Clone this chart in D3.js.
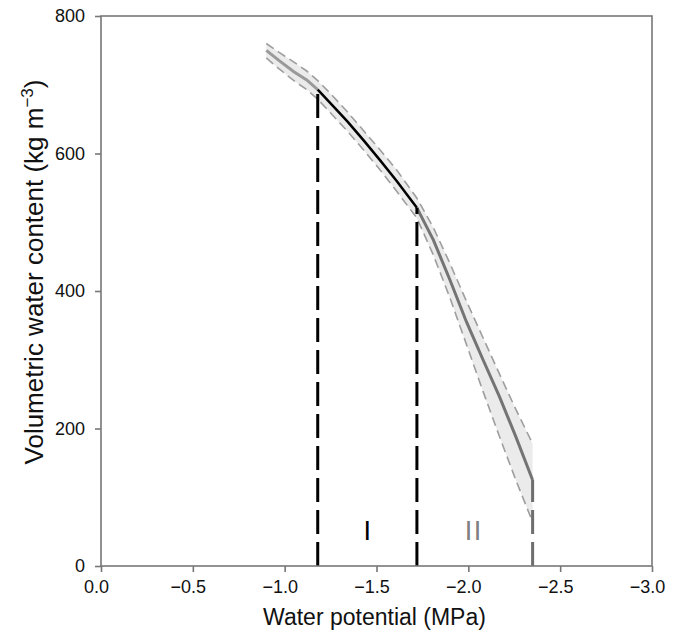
<!DOCTYPE html>
<html>
<head>
<meta charset="utf-8">
<script src="https://cdn.jsdelivr.net/npm/d3@7"></script>
<style>
  body { margin: 0; background: #fff; }
  text { font-family: "Liberation Sans", Arial, sans-serif; }
</style>
</head>
<body>
<div id="chart"></div>
<script>
// water potential (MPa) and volumetric water content (kg m-3)
var psi      = [-0.90, -0.97, -1.05, -1.12, -1.18, -1.25, -1.34, -1.43, -1.52, -1.61, -1.72, -1.81, -1.90, -1.99, -2.08, -2.17, -2.26, -2.35];
var vwcMean  = [750, 735, 719, 707, 693, 673, 647, 619, 590, 560, 521, 474, 416, 355, 300, 246, 187, 125];
var vwcUpper = [760, 747, 733, 720, 706, 687, 661, 633, 605, 576, 535, 492, 440, 385, 332, 279, 227, 178];
var vwcLower = [739, 723, 706, 693, 679, 659, 633, 605, 576, 545, 506, 452, 390, 322, 254, 188, 124, 64];

// phase boundaries and labels
var bounds = [-1.18, -1.72, -2.35];
var phaseLabels = ["I", "II"];
var phaseX = [-1.45, -2.03];
var phaseY = 48;

var xTicks = [0, -0.5, -1, -1.5, -2, -2.5, -3];
var yTicks = [0, 200, 400, 600, 800];

var margin = {top: 16, right: 26, bottom: 65, left: 101};
var width = 678 - margin.left - margin.right;
var height = 631 - margin.top - margin.bottom;

var svg = d3.select("#chart")
    .append("svg")
    .attr("width", 678)
    .attr("height", 631)
    .append("g")
    .attr("transform", `translate(${margin.left},${margin.top})`);

var x = d3.scaleLinear().domain([0, -3]).range([0, width]);
var y = d3.scaleLinear().domain([0, 800]).range([height, 0]);

var pts = psi.map((p, i) => ({p: p, m: vwcMean[i], u: vwcUpper[i], l: vwcLower[i]}));

// confidence band
svg.append("path")
    .datum(pts)
    .attr("fill", "#ebebeb")
    .attr("d", d3.area().x(d => x(d.p)).y0(d => y(d.l)).y1(d => y(d.u)));

["u", "l"].forEach(k => {
    svg.append("path")
        .datum(pts)
        .attr("fill", "none")
        .attr("stroke", "#9e9e9e")
        .attr("stroke-width", 1.6)
        .attr("stroke-dasharray", "9,5")
        .attr("d", d3.line().x(d => x(d.p)).y(d => y(d[k])));
});

// mean curve, three pieces
var meanLine = d3.line().x(d => x(d.p)).y(d => y(d.m));
var pieces = [
    {data: pts.filter(d => d.p >= bounds[0]), color: "#9a9a9a", w: 3},
    {data: pts.filter(d => d.p <= bounds[0] && d.p >= bounds[1]), color: "#000", w: 2.5},
    {data: pts.filter(d => d.p <= bounds[1]), color: "#747474", w: 3}
];
pieces.forEach(s => {
    svg.append("path")
        .datum(s.data)
        .attr("fill", "none")
        .attr("stroke", s.color)
        .attr("stroke-width", s.w)
        .attr("d", meanLine);
});

// vertical dashed lines at the boundaries
bounds.forEach((b, i) => {
    var top = vwcMean[psi.indexOf(b)];
    svg.append("line")
        .attr("x1", x(b)).attr("x2", x(b))
        .attr("y1", y(0)).attr("y2", y(top))
        .attr("stroke", i < 2 ? "#000" : "#6e6e6e")
        .attr("stroke-width", 3)
        .attr("stroke-dasharray", "24,8");
});

// phase labels
phaseLabels.forEach((t, i) => {
    svg.append("text")
        .attr("x", x(phaseX[i]))
        .attr("y", y(phaseY))
        .attr("text-anchor", "middle")
        .attr("dominant-baseline", "middle")
        .attr("font-size", "27px")
        .attr("letter-spacing", i ? "1.5px" : null)
        .attr("fill", i ? "#808080" : "#000")
        .text(t);
});

// frame
svg.append("rect")
    .attr("width", width)
    .attr("height", height)
    .attr("fill", "none")
    .attr("stroke", "#777")
    .attr("stroke-width", 1.6);

var fmt = d => (d === 0 ? "0.0" : d3.format(".1f")(d).replace("-", "\u2212"));

var xAxis = svg.append("g")
    .attr("transform", `translate(0,${height})`)
    .call(d3.axisBottom(x).tickValues(xTicks).tickFormat(fmt).tickSize(6).tickPadding(8));
var yAxis = svg.append("g")
    .call(d3.axisLeft(y).tickValues(yTicks).tickSize(6).tickPadding(10));

[xAxis, yAxis].forEach(a => {
    a.select(".domain").remove();
    a.selectAll(".tick line").attr("stroke", "#777").attr("stroke-width", 1.6);
    a.selectAll(".tick text")
        .attr("font-size", "18px")
        .attr("font-family", "'Liberation Sans', Arial, sans-serif")
        .attr("fill", "#111");
});
xAxis.selectAll(".tick text").attr("dx", "-5");

// axis titles
svg.append("text")
    .attr("x", width / 2 - 2)
    .attr("y", height + 59)
    .attr("text-anchor", "middle")
    .attr("font-size", "23px")
    .attr("fill", "#111")
    .text("Water potential (MPa)");

var yt = svg.append("text")
    .attr("transform", `translate(-58,${height / 2 - 19}) rotate(-90)`)
    .attr("text-anchor", "middle")
    .attr("font-size", "26px")
    .attr("fill", "#111");
yt.append("tspan").text("Volumetric water content (kg m");
yt.append("tspan").attr("dy", "-10").attr("font-size", "17px").text("\u22123");
yt.append("tspan").attr("dy", "10").text(")");
</script>
</body>
</html>
